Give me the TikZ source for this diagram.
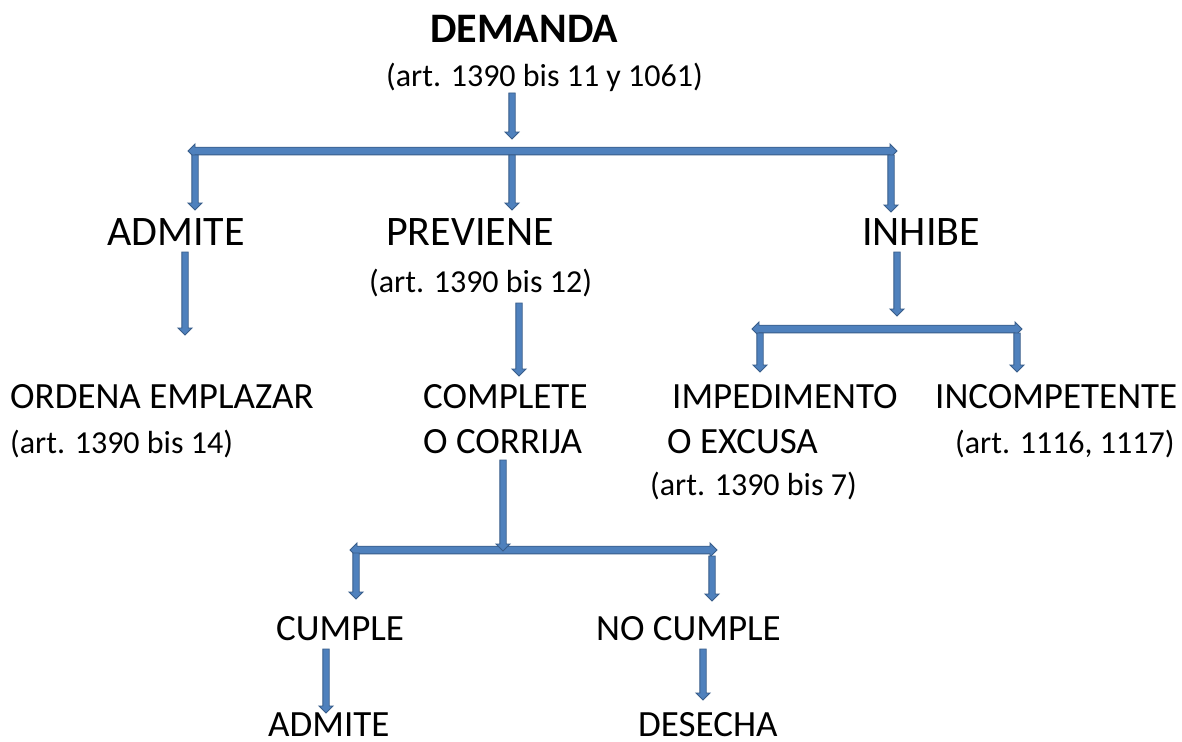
\documentclass[tikz,border=0pt]{standalone}
\usepackage{fontspec}
\setmainfont{Carlito}
\usetikzlibrary{calc}
\definecolor{blkfill}{HTML}{4F81BD}
\definecolor{blkline}{HTML}{385D8A}
\tikzset{
  blk/.style={fill=blkfill,draw=blkline,line width=0.9pt,line join=miter},
  big/.style={anchor=base west,inner sep=0pt,font=\fontsize{42}{50}\selectfont},
  mid/.style={anchor=base west,inner sep=0pt,font=\fontsize{37}{44}\selectfont},
  sml/.style={anchor=base west,inner sep=0pt,font=\fontsize{32}{38}\selectfont},
}
% vertical block arrow, from #1 (top) to #2 (tip)
\newcommand\vblk[2]{%
  \draw[blk] ($(#1)+(-3.2,0)$) -- ($(#2)+(-3.2,-7)$) -- ($(#2)+(-7,-7)$) -- (#2)
    -- ($(#2)+(7,-7)$) -- ($(#2)+(3.2,-7)$) -- ($(#1)+(3.2,0)$) -- cycle;}
% horizontal double block arrow, #1 left tip, #2 right tip
\newcommand\hblk[2]{%
  \draw[blk] (#1) -- ($(#1)+(7,-7)$) -- ($(#1)+(7,-3.8)$) -- ($(#2)+(-7,-3.8)$)
    -- ($(#2)+(-7,-7)$) -- (#2) -- ($(#2)+(-7,7)$) -- ($(#2)+(-7,3.8)$)
    -- ($(#1)+(7,3.8)$) -- ($(#1)+(7,7)$) -- cycle;}
\begin{document}
\begin{tikzpicture}[x=1pt,y=-1pt]
\useasboundingbox[fill=white] (0,0) rectangle (1182,741);
% texts
\node[big,font=\fontsize{42}{50}\selectfont\bfseries] (dem) at (430,43) {DEMANDA};
\node[sml] (dema) at (386,87) {(art. 1390 bis 11 y 1061)};
\node[big] (adm) at (107,245) {ADMITE};
\node[big] (prev) at (386,245) {PREVIENE};
\node[sml] (preva) at (369,292) {(art. 1390 bis 12)};
\node[big] (inh) at (862,245) {INHIBE};
\node[mid] (ord) at (10,408) {ORDENA EMPLAZAR};
\node[sml] (orda) at (10,453) {(art. 1390 bis 14)};
\node[mid] (comp) at (423,408) {COMPLETE};
\node[mid] (comp2) at (423,453) {O CORRIJA};
\node[mid] (imp) at (672,408) {IMPEDIMENTO};
\node[mid] (imp2) at (667,453) {O EXCUSA};
\node[sml] (impa) at (650,495) {(art. 1390 bis 7)};
\node[mid] (inc) at (935,408) {INCOMPETENTE};
\node[sml] (inca) at (955,453) {(art. 1116, 1117)};
\node[mid] (cum) at (276,640) {CUMPLE};
\node[mid] (nocum) at (596,640) {NO CUMPLE};
\node[mid] (adm2) at (268,736) {ADMITE};
\node[mid] (des) at (638,736) {DESECHA};
% arrow end points
\coordinate (a0s) at (512,93);   \coordinate (a0e) at (512,139);
\coordinate (h1l) at (188,151);  \coordinate (h1r) at (897,151);
\coordinate (a1s) at (195,155);  \coordinate (a1e) at (195,210);
\coordinate (a2s) at (512,155);  \coordinate (a2e) at (512,210);
\coordinate (a3s) at (891,155);  \coordinate (a3e) at (891,212);
\coordinate (a4s) at (185,252);  \coordinate (a4e) at (185,335);
\coordinate (a5s) at (519,303);  \coordinate (a5e) at (519,376);
\coordinate (a6s) at (897,252);  \coordinate (a6e) at (897,316);
\coordinate (h2l) at (752,329);  \coordinate (h2r) at (1022,329);
\coordinate (a7s) at (760,333);  \coordinate (a7e) at (760,372);
\coordinate (a8s) at (1017,333); \coordinate (a8e) at (1017,372);
\coordinate (a9s) at (503,460);  \coordinate (a9e) at (503,551);
\coordinate (h3l) at (350,550);  \coordinate (h3r) at (717,550);
\coordinate (a10s) at (356,553); \coordinate (a10e) at (356,599);
\coordinate (a11s) at (712,556); \coordinate (a11e) at (712,601);
\coordinate (a12s) at (326,649); \coordinate (a12e) at (326,713);
\coordinate (a13s) at (703,649); \coordinate (a13e) at (703,700);
% arrows
\vblk{a0s}{a0e}
\hblk{h1l}{h1r}
\vblk{a1s}{a1e}
\vblk{a2s}{a2e}
\vblk{a3s}{a3e}
\vblk{a4s}{a4e}
\vblk{a5s}{a5e}
\vblk{a6s}{a6e}
\hblk{h2l}{h2r}
\vblk{a7s}{a7e}
\vblk{a8s}{a8e}
\hblk{h3l}{h3r}
\vblk{a9s}{a9e}
\vblk{a10s}{a10e}
\vblk{a11s}{a11e}
\vblk{a12s}{a12e}
\vblk{a13s}{a13e}
\end{tikzpicture}
\end{document}
